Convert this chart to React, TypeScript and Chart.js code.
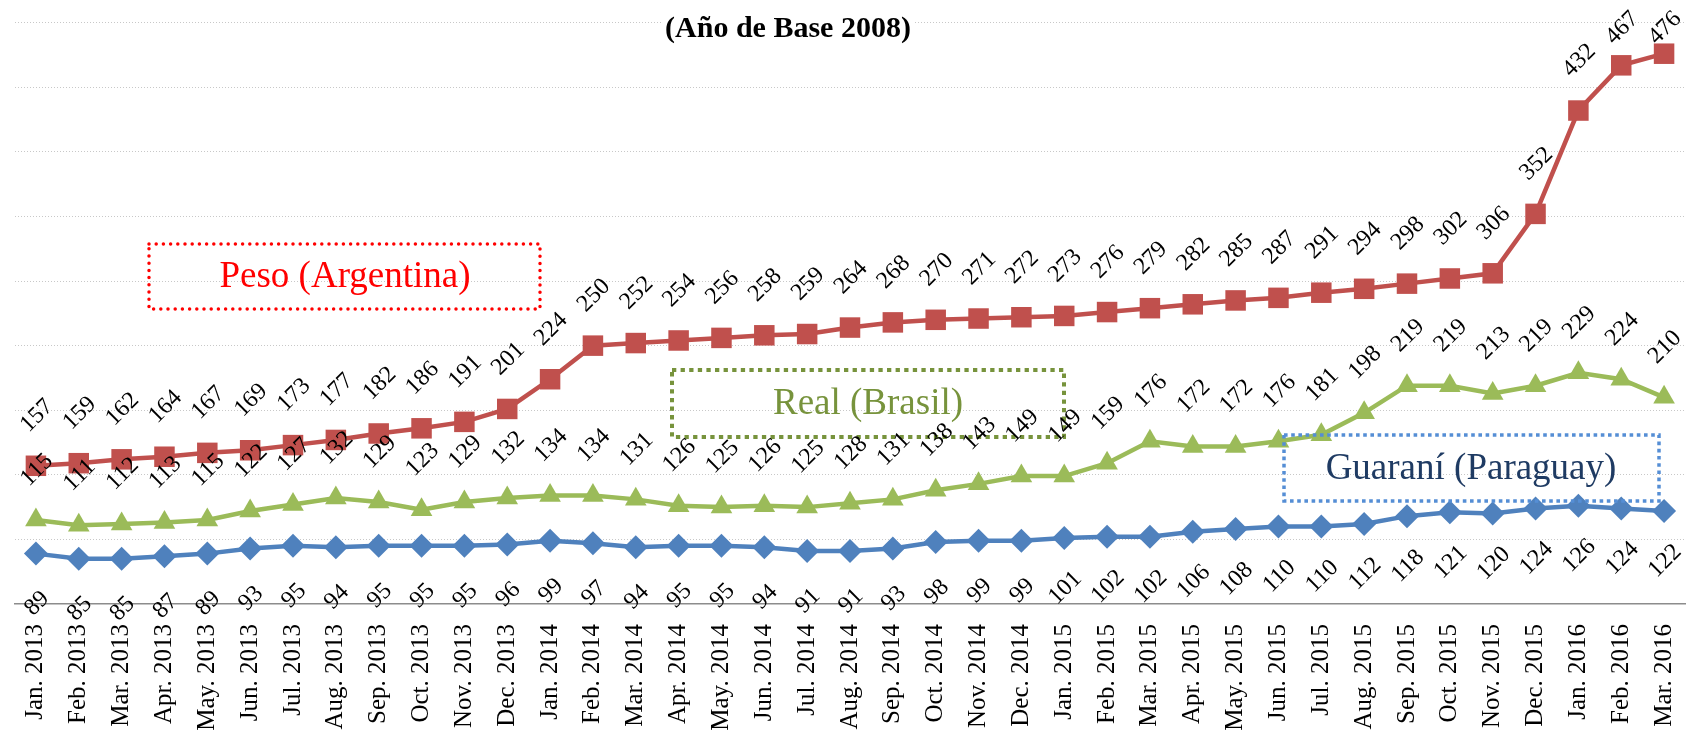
import React, { useEffect, useRef } from 'react';
import { Chart, registerables } from 'chart.js';

Chart.register(...registerables);

const months = [
  'Jan. 2013', 'Feb. 2013', 'Mar. 2013', 'Apr. 2013', 'May. 2013', 'Jun. 2013',
  'Jul. 2013', 'Aug. 2013', 'Sep. 2013', 'Oct. 2013', 'Nov. 2013', 'Dec. 2013',
  'Jan. 2014', 'Feb. 2014', 'Mar. 2014', 'Apr. 2014', 'May. 2014', 'Jun. 2014',
  'Jul. 2014', 'Aug. 2014', 'Sep. 2014', 'Oct. 2014', 'Nov. 2014', 'Dec. 2014',
  'Jan. 2015', 'Feb. 2015', 'Mar. 2015', 'Apr. 2015', 'May. 2015', 'Jun. 2015',
  'Jul. 2015', 'Aug. 2015', 'Sep. 2015', 'Oct. 2015', 'Nov. 2015', 'Dec. 2015',
  'Jan. 2016', 'Feb. 2016', 'Mar. 2016',
];

const pesoArgentina = [
  157, 159, 162, 164, 167, 169, 173, 177, 182, 186, 191, 201,
  224, 250, 252, 254, 256, 258, 259, 264, 268, 270, 271, 272,
  273, 276, 279, 282, 285, 287, 291, 294, 298, 302, 306, 352,
  432, 467, 476,
];

const realBrasil = [
  115, 111, 112, 113, 115, 122, 127, 132, 129, 123, 129, 132,
  134, 134, 131, 126, 125, 126, 125, 128, 131, 138, 143, 149,
  149, 159, 176, 172, 172, 176, 181, 198, 219, 219, 213, 219,
  229, 224, 210,
];

const guaraniParaguay = [
  89, 85, 85, 87, 89, 93, 95, 94, 95, 95, 95, 96,
  99, 97, 94, 95, 95, 94, 91, 91, 93, 98, 99, 99,
  101, 102, 102, 106, 108, 110, 110, 112, 118, 121, 120, 124,
  126, 124, 122,
];

const seriesNames = ['Peso (Argentina)', 'Real (Brasil)', 'Guaraní (Paraguay)'];
const chartTitle = '(Año de Base 2008)';
const yMin = 50;
const yMax = 500;
const yStep = 50;

const SERIF = "'Liberation Serif', 'Times New Roman', serif";

export default function App() {
  const canvasRef = useRef<HTMLCanvasElement | null>(null);

  useEffect(() => {
    const canvas = canvasRef.current;
    if (!canvas) return;

    const annotationBoxes = [
      { text: seriesNames[0], x1: 149, y1: 244, x2: 540, y2: 309, tx: 345, ty: 277, textColor: '#FF0000', lineColor: '#FF0000', dash: [0, 7.2], lw: 3.5, cap: 'round' },
      { text: seriesNames[1], x1: 672, y1: 370, x2: 1064, y2: 437, tx: 868, ty: 404, textColor: '#77933C', lineColor: '#77933C', dash: [4.3, 4.3], lw: 4, cap: 'butt' },
      { text: seriesNames[2], x1: 1284, y1: 435, x2: 1659, y2: 501, tx: 1471, ty: 469, textColor: '#1F3B63', lineColor: '#558ED5', dash: [3.6, 3.6], lw: 3.5, cap: 'butt' },
    ];

    const overlayPlugin = {
      id: 'overlay',
      afterDatasetsDraw(chart: any) {
        const ctx = chart.ctx as CanvasRenderingContext2D;
        annotationBoxes.forEach((b) => {
          ctx.save();
          ctx.strokeStyle = b.lineColor;
          ctx.lineWidth = b.lw;
          ctx.lineCap = b.cap as CanvasLineCap;
          ctx.setLineDash(b.dash);
          ctx.strokeRect(b.x1, b.y1, b.x2 - b.x1, b.y2 - b.y1);
          ctx.setLineDash([]);
          ctx.fillStyle = b.textColor;
          ctx.font = `37px ${SERIF}`;
          ctx.textAlign = 'center';
          ctx.textBaseline = 'middle';
          ctx.fillText(b.text, b.tx, b.ty);
          ctx.restore();
        });
        chart.data.datasets.forEach((ds: any, di: number) => {
          const meta = chart.getDatasetMeta(di);
          const dir = ds.labelDir;
          meta.data.forEach((pt: any, i: number) => {
            let cy = pt.y + dir * 50;
            if (cy < 28) cy = 28;
            ctx.save();
            ctx.translate(pt.x + 1, cy);
            ctx.rotate(-Math.PI / 4);
            ctx.font = `24px ${SERIF}`;
            ctx.fillStyle = '#000000';
            ctx.textAlign = 'center';
            ctx.textBaseline = 'middle';
            ctx.fillText(String(ds.data[i]), 0, 0);
            ctx.restore();
          });
        });
      },
      afterDraw(chart: any) {
        const ctx = chart.ctx as CanvasRenderingContext2D;
        ctx.save();
        ctx.font = `bold 30px ${SERIF}`;
        const w = ctx.measureText(chartTitle).width;
        ctx.fillStyle = '#FFFFFF';
        ctx.fillRect(788 - w / 2 - 3, 8, w + 6, 40);
        ctx.fillStyle = '#000000';
        ctx.textAlign = 'center';
        ctx.textBaseline = 'middle';
        ctx.fillText(chartTitle, 788, 29);
        ctx.restore();
      },
    };

    const chart = new Chart(canvas, {
      type: 'line',
      data: {
        labels: months,
        datasets: [
          {
            label: seriesNames[0],
            data: pesoArgentina,
            borderColor: '#C0504D',
            backgroundColor: '#C0504D',
            pointBackgroundColor: '#C0504D',
            pointBorderColor: '#C0504D',
            pointStyle: 'rect',
            pointRadius: 14.5,
            pointBorderWidth: 0,
            borderWidth: 4.5,
            tension: 0,
            fill: false,
            clip: false,
            labelDir: -1,
          } as any,
          {
            label: seriesNames[1],
            data: realBrasil,
            borderColor: '#9BBB59',
            backgroundColor: '#9BBB59',
            pointBackgroundColor: '#9BBB59',
            pointBorderColor: '#9BBB59',
            pointStyle: 'triangle',
            pointRadius: 12.5,
            pointBorderWidth: 0,
            borderWidth: 4.5,
            tension: 0,
            fill: false,
            clip: false,
            labelDir: -1,
          } as any,
          {
            label: seriesNames[2],
            data: guaraniParaguay,
            borderColor: '#4F81BD',
            backgroundColor: '#4F81BD',
            pointBackgroundColor: '#4F81BD',
            pointBorderColor: '#4F81BD',
            pointStyle: 'rectRot',
            pointRadius: 12,
            pointBorderWidth: 0,
            borderWidth: 4.5,
            tension: 0,
            fill: false,
            clip: false,
            labelDir: 1,
          } as any,
        ],
      },
      options: {
        animation: false,
        responsive: false,
        devicePixelRatio: 1,
        events: [],
        layout: { padding: { left: 6.5, right: 14.5, top: 22.7, bottom: 0 } },
        plugins: {
          legend: { display: false },
          title: { display: false },
          tooltip: { enabled: false },
        },
        scales: {
          x: {
            type: 'category',
            offset: true,
            grid: { display: false, drawTicks: false },
            border: { display: true, color: '#8C8C8C', width: 1.5 },
            ticks: {
              autoSkip: false,
              minRotation: 90,
              maxRotation: 90,
              padding: 20,
              color: '#000000',
              font: { family: SERIF, size: 25 },
            },
            afterFit: (s: any) => {
              s.height = 133;
              s.paddingLeft = 0;
              s.paddingRight = 0;
            },
          },
          y: {
            min: yMin,
            max: yMax,
            ticks: { stepSize: yStep, display: false },
            grid: {
              drawTicks: false,
              lineWidth: 1,
              color: (c: any) => (c.tick && c.tick.value === yMin ? 'rgba(0,0,0,0)' : '#C8C8C8'),
            },
            border: { display: false, dash: [1, 2] },
            afterFit: (s: any) => {
              s.width = 0;
            },
          },
        },
      } as any,
      plugins: [overlayPlugin],
    });

    return () => chart.destroy();
  }, []);

  return (
    <div style={{ position: 'absolute', left: 0, top: 0, width: 1700, height: 737, background: '#FFFFFF' }}>
      <canvas ref={canvasRef} width={1700} height={737} style={{ display: 'block' }} />
    </div>
  );
}
